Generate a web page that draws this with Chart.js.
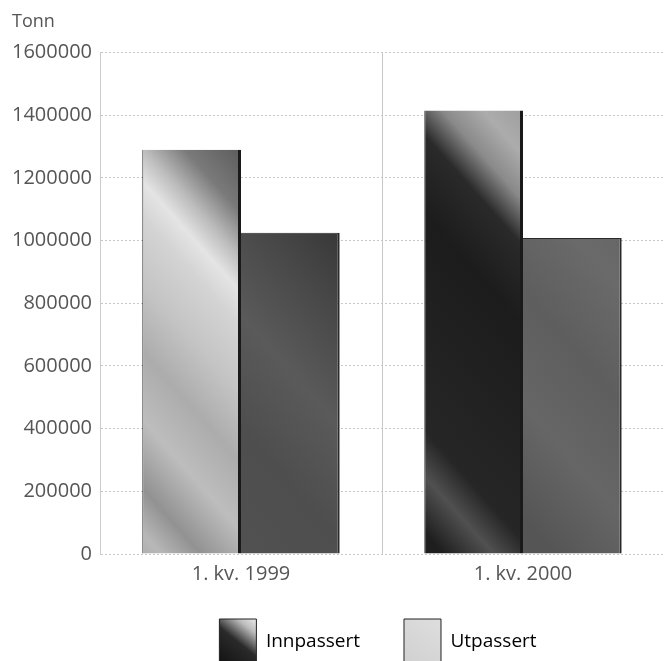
<!DOCTYPE html>
<html>
<head>
<meta charset="utf-8">
<script src="https://cdn.jsdelivr.net/npm/chart.js@4/dist/chart.umd.min.js"></script>
<style>
  html, body { margin: 0; padding: 0; background: #fff; }
  #wrap { width: 664px; height: 661px; }
</style>
</head>
<body>
<div id="wrap"><canvas id="chart"></canvas></div>
<script>
// Data
const categories = ["1. kv. 1999", "1. kv. 2000"];
const innpassert = [1290000, 1415000];
const utpassert = [1025000, 1008000];
const seriesNames = ["Innpassert", "Utpassert"];
const yTicks = [0, 200000, 400000, 600000, 800000, 1000000, 1200000, 1400000, 1600000];

// Gradient fills across the chart area, "/" direction with light streaks
function barFill(c, stops) {
  const area = c.chart.chartArea;
  if (!area) return stops[0][1];
  const g = c.chart.ctx.createLinearGradient(area.left, area.bottom, area.right, area.top);
  stops.forEach((s) => g.addColorStop(s[0], s[1]));
  return g;
}

const innStops = [
  // 1999 bar, light with dark top-right corner
  [[0, "#9a9a9a"], [0.06, "#b8b8b8"], [0.1, "#929292"], [0.16, "#bdbdbd"], [0.22, "#acacac"],
   [0.28, "#c4c4c4"], [0.34, "#d4d4d4"], [0.37, "#e4e4e4"], [0.4, "#bcbcbc"], [0.44, "#7a7a7a"],
   [0.5, "#5a5a5a"], [1, "#555"]],
  // 2000 bar, dark with a light band near the top
  [[0, "#1c1c1c"], [0.34, "#1e1e1e"], [0.39, "#505050"], [0.43, "#262626"], [0.62, "#1c1c1c"],
   [0.69, "#2a2a2a"], [0.73, "#8a8a8a"], [0.77, "#acacac"], [0.82, "#9a9a9a"], [1, "#999"]],
];
const utStops = [
  [[0, "#555"], [0.25, "#4e4e4e"], [0.35, "#5a5a5a"], [0.45, "#474747"], [0.52, "#383838"], [1, "#333"]],
  [[0, "#5a5a5a"], [0.45, "#555"], [0.55, "#666"], [0.65, "#5e5e5e"], [0.75, "#6a6a6a"], [1, "#555"]],
];

const fontFamily = "'Open Sans', 'Noto Sans', sans-serif";
const legendBoxW = 37;
const legendShift = { x: 40, y: -19 };

// Move the legend a little off-centre like the original and paint its swatches
const legendPlugin = {
  id: "legendTweak",
  afterUpdate(chart) {
    const lg = chart.legend;
    if (!lg || !lg.legendHitBoxes) return;
    lg.left += legendShift.x;
    lg.right += legendShift.x;
    lg.top += legendShift.y;
    lg.bottom += legendShift.y;
    lg.legendHitBoxes.forEach((hb) => {
      hb.left += legendShift.x;
      hb.top += legendShift.y;
    });
  },
  beforeDraw(chart) {
    const lg = chart.legend;
    if (!lg || !lg.legendHitBoxes) return;
    lg.legendItems.forEach((item, i) => {
      const hb = lg.legendHitBoxes[i];
      if (!hb) return;
      const g = chart.ctx.createLinearGradient(hb.left, hb.top + hb.height, hb.left + legendBoxW, hb.top);
      if (i === 0) {
        g.addColorStop(0, "#111");
        g.addColorStop(0.5, "#2a2a2a");
        g.addColorStop(0.8, "#bcbcbc");
        g.addColorStop(1, "#ececec");
      } else {
        g.addColorStop(0, "#d0d0d0");
        g.addColorStop(1, "#dedede");
      }
      item.fillStyle = g;
    });
  },
};

const ctx = document.getElementById("chart").getContext("2d");

const chart = new Chart(ctx, {
  type: "bar",
  data: {
    labels: categories,
    datasets: [
      {
        label: seriesNames[0],
        data: innpassert,
        backgroundColor: (c) => barFill(c, innStops[c.dataIndex] || innStops[0]),
        borderColor: "#1a1a1a",
        borderWidth: { right: 3, top: 0, left: 1, bottom: 0 },
        barPercentage: 1,
        categoryPercentage: 0.7,
      },
      {
        label: seriesNames[1],
        data: utpassert,
        backgroundColor: (c) => barFill(c, utStops[c.dataIndex] || utStops[0]),
        borderColor: "#2a2a2a",
        borderWidth: { right: 2, top: 1, left: 0, bottom: 0 },
        barPercentage: 1,
        categoryPercentage: 0.7,
      },
    ],
  },
  plugins: [legendPlugin],
  options: {
    responsive: true,
    maintainAspectRatio: false,
    animation: false,
    layout: { padding: { left: 12, right: 0, top: 0, bottom: -33 } },
    plugins: {
      title: {
        display: true,
        text: "Tonn",
        align: "start",
        color: "#555",
        font: { family: fontFamily, size: 18, weight: "normal" },
        padding: { top: 11, bottom: 20 },
      },
      legend: {
        position: "bottom",
        labels: {
          color: "#444",
          font: { family: fontFamily, size: 19 },
          boxWidth: legendBoxW,
          boxHeight: 46,
          padding: 44,
          generateLabels: (chart) =>
            seriesNames.map((name, i) => ({
              text: name,
              fillStyle: i === 0 ? "#333" : "#d6d6d6",
              strokeStyle: "#222",
              lineWidth: 1,
              datasetIndex: i,
            })),
        },
      },
      tooltip: { enabled: false },
    },
    scales: {
      x: {
        grid: {
          color: "#c8c8c8",
          lineWidth: 1,
          drawTicks: false,
          offset: true,
        },
        border: { display: false },
        ticks: {
          color: "#555",
          font: { family: fontFamily, size: 20 },
          padding: 8,
        },
      },
      y: {
        min: 0,
        max: 1600000,
        afterBuildTicks: (scale) => {
          scale.ticks = yTicks.map((v) => ({ value: v }));
        },
        afterFit: (scale) => {
          scale.width = 88;
        },
        grid: {
          color: "#c8c8c8",
          lineWidth: 1,
          drawTicks: false,
        },
        border: { display: true, color: "#ccc", dash: [2, 2] },
        ticks: {
          color: "#555",
          font: { family: fontFamily, size: 20 },
          padding: 8,
          callback: (v) => String(v),
        },
      },
    },
  },
});
</script>
</body>
</html>
